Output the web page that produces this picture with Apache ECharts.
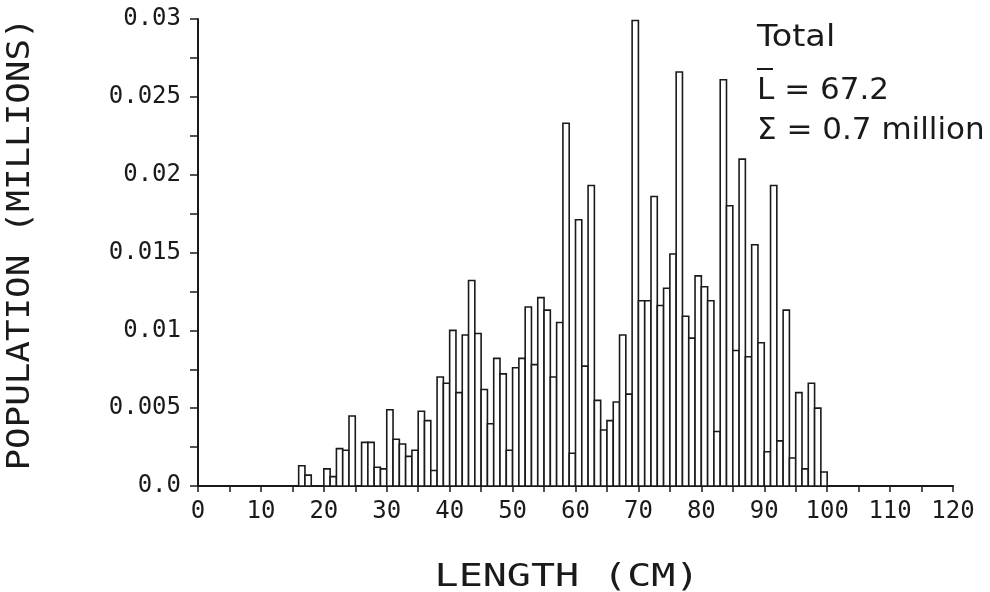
<!DOCTYPE html>
<html><head><meta charset="utf-8">
<script src="https://cdn.jsdelivr.net/npm/echarts@6/dist/echarts.min.js"></script>
<style>html,body{margin:0;padding:0;background:#fff}#c{width:990px;height:592px}</style>
</head><body><div id="c"></div>
<script>
// Length class (cm, lower edge of 1-cm bin)
const lengths = [16,17,18,19,20,21,22,23,24,25,26,27,28,29,30,31,32,33,34,35,36,37,38,39,40,41,42,43,44,45,46,47,48,49,50,51,52,53,54,55,56,57,58,59,60,61,62,63,64,65,66,67,68,69,70,71,72,73,74,75,76,77,78,79,80,81,82,83,84,85,86,87,88,89,90,91,92,93,94,95,96,97,98,99];
// Population (millions)
const population = [
  0.0013,0.0007,0,0,0.0011,0.0006,0.0024,0.0023,0.0045,0,
  0.0028,0.0028,0.0012,0.0011,0.0049,0.0030,0.0027,0.0019,0.0023,0.0048,
  0.0042,0.0010,0.0070,0.0066,0.0100,0.0060,0.0097,0.0132,0.0098,0.0062,
  0.0040,0.0082,0.0072,0.0023,0.0076,0.0082,0.0115,0.0078,0.0121,0.0113,
  0.0070,0.0105,0.0233,0.0021,0.0171,0.0077,0.0193,0.0055,0.0036,0.0042,
  0.0054,0.0097,0.0059,0.0299,0.0119,0.0119,0.0186,0.0116,0.0127,0.0149,
  0.0266,0.0109,0.0095,0.0135,0.0128,0.0119,0.0035,0.0261,0.0180,0.0087,
  0.0210,0.0083,0.0155,0.0092,0.0022,0.0193,0.0029,0.0113,0.0018,0.0060,
  0.0011,0.0066,0.0050,0.0009
];
const annotationLines = ['Total', 'L = 67.2', '\u03A3 = 0.7 million'];
const xName = 'LENGTH (CM)';
const yName = 'POPULATION (MILLIONS)';

const ink = '#1a1a1a';
const mono = 'DejaVu Sans Mono';
const chart = echarts.init(document.getElementById('c'), null, {renderer: 'canvas'});

chart.setOption({
  backgroundColor: '#fff',
  animation: false,
  grid: {left: 198, right: 37, top: 19, bottom: 106, containLabel: false, outerBoundsMode: 'none'},
  xAxis: {
    type: 'value', min: 0, max: 120, interval: 10,
    axisLine: {lineStyle: {color: ink, width: 2}},
    axisTick: {show: true, length: 6, lineStyle: {color: ink, width: 1.5}},
    minorTick: {show: true, splitNumber: 2, length: 6, lineStyle: {color: ink, width: 1.5}},
    splitLine: {show: false},
    axisLabel: {fontFamily: mono, fontSize: 24, color: ink, margin: 14}
  },
  yAxis: {
    type: 'value', min: 0, max: 0.03, interval: 0.005,
    axisLine: {show: true, lineStyle: {color: ink, width: 2}},
    axisTick: {show: true, length: 8, lineStyle: {color: ink, width: 1.5}},
    minorTick: {show: true, splitNumber: 2, length: 8, lineStyle: {color: ink, width: 1.5}},
    splitLine: {show: false},
    axisLabel: {fontFamily: mono, fontSize: 24, color: ink, margin: 17,
      formatter: v => v === 0 ? '0.0' : String(+v.toFixed(3))}
  },
  series: [{
    type: 'custom',
    data: lengths.map((l, i) => [l, population[i]]),
    encode: {x: 0, y: 1},
    renderItem: (params, api) => {
      const x = api.value(0), v = api.value(1);
      if (!v) return null;
      const p0 = api.coord([x, v]);
      const p1 = api.coord([x + 1, 0]);
      return {type: 'rect',
        shape: {x: p0[0], y: p0[1], width: p1[0] - p0[0], height: p1[1] - p0[1]},
        style: {fill: '#fff', stroke: ink, lineWidth: 1.6}};
    }
  }],
  graphic: [
    {type: 'text', x: 567, y: 578, scaleX: 1.25,
     style: {text: xName, x: 0, y: 0, align: 'center', verticalAlign: 'middle', font: '32px "DejaVu Sans Mono"', fill: ink}},
    {type: 'text', x: 21, y: 244, rotation: Math.PI / 2, scaleX: 1.12,
     style: {text: yName, x: 0, y: 0, align: 'center', verticalAlign: 'middle', font: '32px "DejaVu Sans Mono"', fill: ink}},
    {type: 'text', x: 757, y: 38, scaleX: 1.08,
     style: {text: annotationLines[0], x: 0, y: 0, align: 'left', verticalAlign: 'middle', font: '31px "DejaVu Sans"', fill: ink}},
    {type: 'text', x: 757, y: 91,
     style: {text: annotationLines[1], x: 0, y: 0, align: 'left', verticalAlign: 'middle', font: '31px "DejaVu Sans"', fill: ink}},
    {type: 'line', shape: {x1: 757, y1: 69, x2: 773, y2: 69}, style: {stroke: ink, lineWidth: 2}},
    {type: 'text', x: 757, y: 131,
     style: {text: annotationLines[2], x: 0, y: 0, align: 'left', verticalAlign: 'middle', font: '31px "DejaVu Sans"', fill: ink}}
  ]
});
</script></body></html>
